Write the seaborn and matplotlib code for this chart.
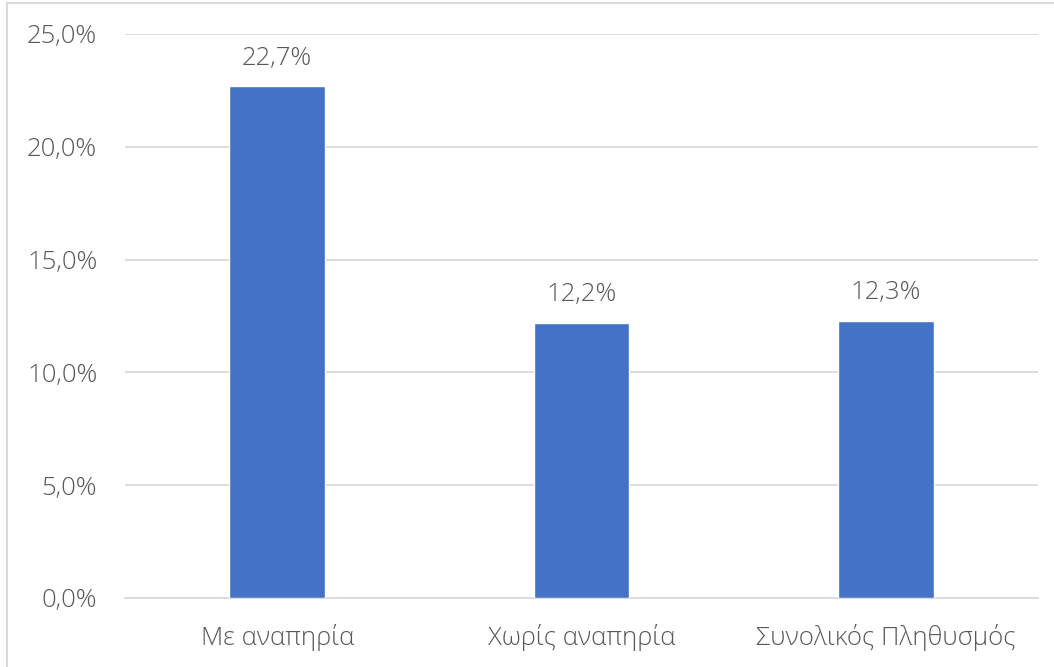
import matplotlib
matplotlib.use("Agg")
import matplotlib.pyplot as plt
import matplotlib.patches as mpatches
import seaborn as sns
import pandas as pd

categories = ["Με αναπηρία", "Χωρίς αναπηρία", "Συνολικός Πληθυσμός"]
values = [22.7, 12.2, 12.3]
yticks = [0, 5, 10, 15, 20, 25]

BAR_COLOR = "#4472C4"
TEXT_COLOR = "#595959"
GRID_COLOR = "#D9D9D9"
FS = 18.5

sns.set_style("white")
plt.rcParams["font.family"] = ["Open Sans", "DejaVu Sans"]
plt.rcParams["font.weight"] = "light"

df = pd.DataFrame({"category": categories, "value": values})

fig = plt.figure(figsize=(10.54, 6.67), dpi=100)
ax = fig.add_axes([125 / 1054, 1 - 598 / 667, 913 / 1054, 564 / 667])

sns.barplot(data=df, x="category", y="value", color=BAR_COLOR,
            width=0.315, saturation=1, ax=ax, zorder=3)

ax.set_ylim(0, 25)
ax.set_yticks(yticks)
ax.set_yticklabels([f"{t:.1f}%".replace(".", ",") for t in yticks])
ax.yaxis.grid(True, color=GRID_COLOR, linewidth=1.3, zorder=0)
ax.set_axisbelow(True)
for s in ax.spines.values():
    s.set_visible(False)
ax.spines["bottom"].set_visible(True)
ax.spines["bottom"].set_color(GRID_COLOR)
ax.spines["bottom"].set_linewidth(1.3)

ax.tick_params(axis="both", length=0, labelsize=FS, colors=TEXT_COLOR)
ax.tick_params(axis="y", pad=20)
ax.tick_params(axis="x", pad=19)
ax.set_xlabel("")
ax.set_ylabel("")

labels = [f"{v:.1f}%".replace(".", ",") for v in values]
ax.bar_label(ax.containers[0], labels=labels, padding=11,
             fontsize=FS, color=TEXT_COLOR)

# light outer frame like the chart area border
fig.patches.append(mpatches.Rectangle((7 / 1054, -0.1), 1.2, 1.1 - 3 / 667,
                                      transform=fig.transFigure, fill=False,
                                      edgecolor=GRID_COLOR, linewidth=1.5))

fig.savefig("out.png", dpi=100)
